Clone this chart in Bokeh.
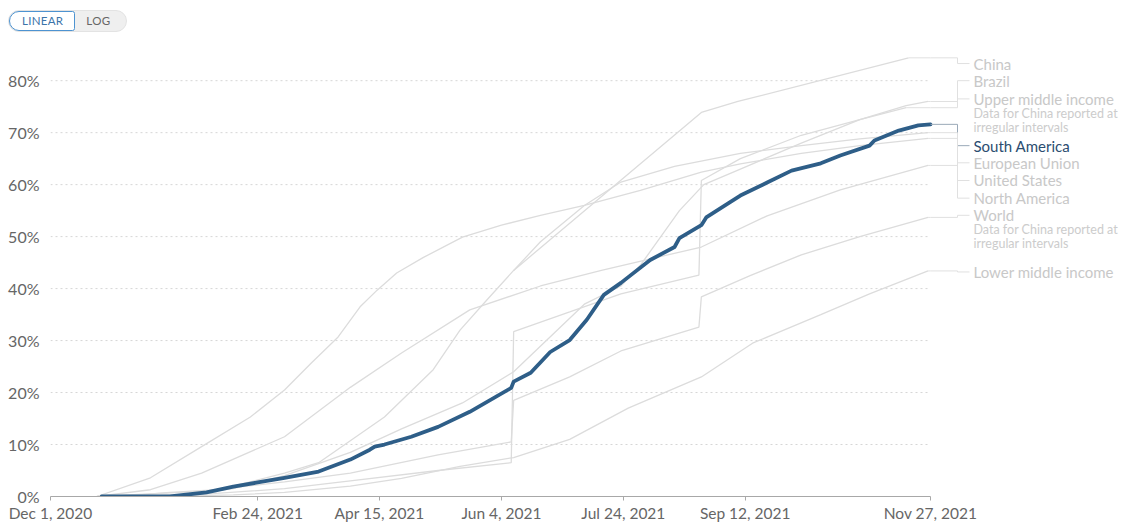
from datetime import datetime, timedelta
import pandas as pd
from bokeh.plotting import figure
from bokeh.models import (Range1d, FixedTicker, CustomJSTickFormatter,
                          PrintfTickFormatter, Div)
from bokeh.layouts import column
from bokeh.core.properties import value
from bokeh.embed import file_html
from bokeh.resources import INLINE

# ---------------- data ----------------
x_tick_dates = ["2020-12-01", "2021-02-24", "2021-04-15", "2021-06-04",
                "2021-07-24", "2021-09-12", "2021-11-27"]
y_ticks = [0, 10, 20, 30, 40, 50, 60, 70, 80]

sa_dates = ["2020-12-22", "2021-01-19", "2021-02-03", "2021-02-14", "2021-02-24",
            "2021-03-07", "2021-03-21", "2021-04-03", "2021-04-11", "2021-04-13",
            "2021-04-17", "2021-04-28", "2021-05-09", "2021-05-22", "2021-05-25",
            "2021-06-08", "2021-06-09", "2021-06-16", "2021-06-24", "2021-07-02",
            "2021-07-09", "2021-07-16", "2021-07-23", "2021-08-04", "2021-08-14",
            "2021-08-16", "2021-08-25", "2021-08-27", "2021-09-05", "2021-09-10",
            "2021-09-21", "2021-10-01", "2021-10-13", "2021-10-21", "2021-11-02",
            "2021-11-04", "2021-11-14", "2021-11-22", "2021-11-27"]
sa_values = [0, 0, 0.8, 1.9, 2.7, 3.6, 4.8, 7.1, 9.0, 9.6, 10.0, 11.5, 13.4, 16.3, 17.1,
             20.9, 22.1, 23.8, 27.8, 30.1, 34.0, 38.8, 41.1, 45.5, 48.0, 49.7, 52.2,
             53.7, 56.4, 57.9, 60.4, 62.7, 64.1, 65.6, 67.5, 68.5, 70.4, 71.4, 71.6]

china_dates = ["2021-06-09", "2021-08-25", "2021-09-09", "2021-11-18"]
china_values = [43.5, 73.9, 76.0, 84.4]

brazil_dates = ["2021-01-19", "2021-02-14", "2021-03-07", "2021-04-03", "2021-04-24",
                "2021-05-19", "2021-06-09", "2021-07-08", "2021-07-23", "2021-07-31",
                "2021-08-16", "2021-08-26", "2021-09-10", "2021-10-05", "2021-10-29",
                "2021-11-17", "2021-11-26"]
brazil_values = [0, 1.5, 4.0, 8.5, 13.0, 18.0, 24.0, 37.0, 40.5, 44.5, 55.0, 60.0,
                 63.0, 68.0, 72.5, 75.2, 76.0]

umi_dates = ["2020-12-22", "2021-02-01", "2021-03-07", "2021-04-03", "2021-05-09",
             "2021-06-08", "2021-06-09", "2021-07-02", "2021-07-23", "2021-08-24",
             "2021-08-25", "2021-09-10", "2021-10-05", "2021-10-29", "2021-11-17"]
umi_values = [0, 0.4, 1.5, 3.0, 5.0, 6.5, 31.7, 35.5, 39.0, 42.6, 60.8, 65.0, 69.5,
              72.5, 74.8]

eu_dates = ["2020-12-30", "2021-01-19", "2021-02-08", "2021-03-07", "2021-03-21",
            "2021-04-17", "2021-05-07", "2021-05-18", "2021-05-29", "2021-06-09",
            "2021-06-20", "2021-07-08", "2021-07-23", "2021-08-14", "2021-09-10",
            "2021-10-05", "2021-10-29", "2021-11-26"]
eu_values = [0, 0.8, 1.3, 4.5, 6.5, 15.3, 24.4, 32.0, 37.8, 43.5, 49.0, 56.0, 60.5,
             63.5, 66.0, 67.5, 68.8, 70.0]

us_dates = ["2020-12-20", "2021-01-11", "2021-02-01", "2021-02-21", "2021-03-07",
            "2021-03-18", "2021-03-29", "2021-04-07", "2021-04-14", "2021-04-22",
            "2021-05-03", "2021-05-19", "2021-06-04", "2021-06-20", "2021-07-08",
            "2021-07-31", "2021-08-25", "2021-09-10", "2021-10-05", "2021-10-29",
            "2021-11-26"]
us_values = [0, 3.6, 9.6, 15.3, 20.5, 25.7, 30.7, 36.5, 39.7, 43.0, 46.0, 49.9, 52.2,
             54.1, 56.0, 58.9, 62.4, 64.0, 66.0, 67.5, 68.9]

na_dates = ["2020-12-20", "2021-01-11", "2021-02-01", "2021-03-07", "2021-04-03",
            "2021-04-24", "2021-05-22", "2021-06-20", "2021-07-15", "2021-08-25",
            "2021-09-21", "2021-10-21", "2021-11-26"]
na_values = [0, 1.3, 4.5, 11.5, 21.0, 27.6, 35.9, 40.5, 43.5, 48.0, 54.0, 59.0, 63.7]

world_dates = ["2020-12-20", "2021-02-01", "2021-03-07", "2021-04-03", "2021-05-09",
               "2021-06-08", "2021-06-09", "2021-07-02", "2021-07-23", "2021-08-24",
               "2021-08-25", "2021-09-14", "2021-10-05", "2021-10-29", "2021-11-26"]
world_values = [0, 1.0, 2.8, 4.5, 8.0, 10.5, 18.5, 23.0, 28.0, 32.6, 38.4, 42.5, 46.5,
                50.0, 53.7]

lmi_dates = ["2021-01-19", "2021-02-14", "2021-03-07", "2021-04-03", "2021-04-24",
             "2021-05-18", "2021-06-09", "2021-07-02", "2021-07-26", "2021-08-25",
             "2021-09-15", "2021-10-13", "2021-11-02", "2021-11-26"]
lmi_values = [0, 0.3, 0.8, 2.0, 3.5, 5.8, 7.5, 11.0, 17.0, 23.0, 29.5, 35.0, 39.0, 43.4]

series_names = ["China", "Brazil", "Upper middle income", "South America",
                "European Union", "United States", "North America", "World",
                "Lower middle income"]
series_data = {
    "China": (china_dates, china_values),
    "Brazil": (brazil_dates, brazil_values),
    "Upper middle income": (umi_dates, umi_values),
    "South America": (sa_dates, sa_values),
    "European Union": (eu_dates, eu_values),
    "United States": (us_dates, us_values),
    "North America": (na_dates, na_values),
    "World": (world_dates, world_values),
    "Lower middle income": (lmi_dates, lmi_values),
}
focus = "South America"
note_text = ["Data for China reported at", "irregular intervals"]
noted = ["Upper middle income", "World"]

# label slots (layout) in value units
label_slot = {"China": 83.3, "Brazil": 80.0, "Upper middle income": 76.5,
              "South America": 67.5, "European Union": 64.2, "United States": 60.8,
              "North America": 57.4, "World": 54.1, "Lower middle income": 43.2}

# ---------------- layout constants ----------------
W, H = 1130, 490
BL, BT, BB = 50, 15, 27
frame_w = W - BL
data_px = 880                       # pixels used by the date span
start = datetime(2020, 12, 1)
end = datetime(2021, 11, 27)
span_days = (end - start).days
px_day = data_px / span_days
xr_end = start + timedelta(days=frame_w / px_day)

def off(px):
    return end + timedelta(days=px / px_day)

GRAY = "#dcdcdc"
TXT = "#666666"
BLUE = "#2e5e88"

p = figure(width=W, height=H, x_axis_type="datetime",
           x_range=Range1d(start, xr_end), y_range=Range1d(0, 86),
           output_backend="svg", toolbar_location=None,
           min_border_left=BL, min_border_right=0, min_border_top=BT,
           min_border_bottom=BB, outline_line_color=None,
           background_fill_color="white", border_fill_color="white")
p.xgrid.visible = False
p.ygrid.visible = False

# dotted horizontal guides limited to the date span
gy = [t for t in y_ticks if t > 0]
p.segment(x0=[start] * len(gy), x1=[end] * len(gy), y0=gy, y1=gy,
          line_color="#d6d6d6", line_width=1, line_dash="2 3")

# axes
xa = p.xaxis[0]
xa.bounds = (start, end)
xa.ticker = FixedTicker(ticks=[pd.Timestamp(d).value // 10**6 for d in x_tick_dates])
xa.formatter = CustomJSTickFormatter(code="""
const m = ["Jan","Feb","Mar","Apr","May","Jun","Jul","Aug","Sep","Oct","Nov","Dec"];
const d = new Date(tick);
return m[d.getUTCMonth()] + " " + d.getUTCDate() + ", " + d.getUTCFullYear();
""")
xa.axis_line_color = "#a8a8a8"
xa.major_tick_line_color = "#a8a8a8"
xa.major_tick_in = 0
xa.major_tick_out = 4
xa.minor_tick_line_color = None
xa.major_label_standoff = 3
xa.major_label_text_font = "Lato"
xa.major_label_text_font_size = "15.5px"
xa.major_label_text_color = TXT

ya = p.yaxis[0]
ya.ticker = FixedTicker(ticks=y_ticks)
ya.formatter = PrintfTickFormatter(format="%d%%")
ya.axis_line_color = None
ya.major_tick_line_color = None
ya.minor_tick_line_color = None
ya.major_label_standoff = 5
ya.major_label_text_font = "Lato"
ya.major_label_text_font_size = "16px"
ya.major_label_text_color = TXT

# lines
for name in series_names:
    if name == focus:
        continue
    d, v = series_data[name]
    p.line(pd.to_datetime(d), v, line_color=GRAY, line_width=1.3)
d, v = series_data[focus]
p.line(pd.to_datetime(d), v, line_color=BLUE, line_width=3.8,
       line_join="round", line_cap="round")

# connectors + labels
cx = off(27)
lx = off(39)
tx = off(43)
for name in series_names:
    d, v = series_data[name]
    last = pd.to_datetime(d[-1])
    ly = label_slot[name]
    col = "#9aa9b8" if name == focus else "#e0e0e0"
    p.line([last, end, cx, cx, lx], [v[-1], v[-1], v[-1], ly, ly],
           line_color=col, line_width=1)
    if name == focus:
        p.text(x=[tx], y=[ly], text=[name], text_baseline="middle",
               text_font=value("Lato"), text_font_size="15px", text_color="#2b4d70")
    else:
        p.text(x=[tx], y=[ly], text=[name], text_baseline="middle",
               text_font=value("Lato"), text_font_size="15px", text_color="#c8c8c8")
    if name in noted:
        p.text(x=[tx, tx], y=[ly - 2.8, ly - 5.5], text=note_text,
               text_baseline="middle", text_font=value("Lato"),
               text_font_size="12.5px", text_color="#cccccc")

toggle = Div(text="""
<div style="display:inline-flex;align-items:stretch;height:22px;margin:10px 0 0 8px;
 font-family:Lato,sans-serif;font-size:11.5px;letter-spacing:0.3px;
 background:#efefef;border:1px solid #e3e3e3;border-radius:12px;">
 <span style="display:flex;align-items:center;padding:0 11px 0 12px;background:#ffffff;
  border:1.5px solid #4d93d1;border-radius:12px 3px 3px 12px;color:#3c74aa;">LINEAR</span>
 <span style="display:flex;align-items:center;padding:0 16px 0 11px;color:#666666;">LOG</span>
</div>""", width=300, height=34, margin=(0, 0, 0, 0))

layout = column(toggle, p, spacing=0)
open("out.html", "w").write(file_html(layout, INLINE))
